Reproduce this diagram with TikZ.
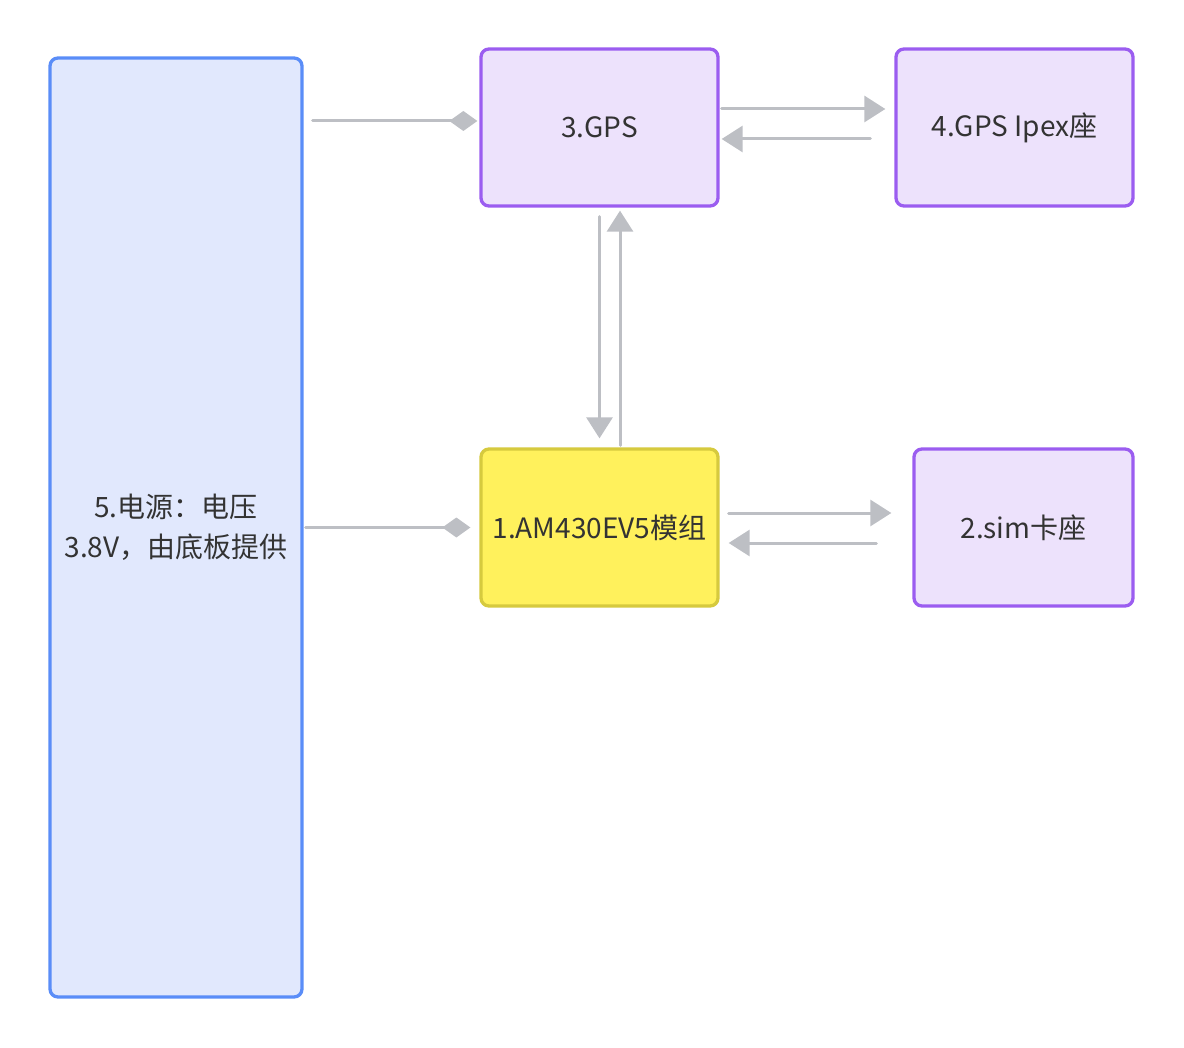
\documentclass[tikz,border=0pt]{standalone}
\usepackage{fontspec}
\setmainfont{Noto Sans CJK SC}
\usepackage{xcolor}
\usetikzlibrary{arrows.meta}
\definecolor{pwrfill}{HTML}{E1E8FD}
\definecolor{pwrline}{HTML}{5A8DF8}
\definecolor{vfill}{HTML}{EDE2FC}
\definecolor{vline}{HTML}{9B5DF0}
\definecolor{yfill}{HTML}{FFF15C}
\definecolor{yline}{HTML}{D6CA3E}
\definecolor{conn}{HTML}{BDBFC4}
\definecolor{txt}{HTML}{333333}

\begin{document}
\begin{tikzpicture}[x=1pt,y=-1pt,font=\fontsize{28}{40}\selectfont,text=txt]
    \tikzset{
      blk/.style={rounded corners=8pt,line width=3.3pt,draw,align=center,
                  minimum height=157pt,inner sep=4pt},
      pw/.style={blk,fill=pwrfill,draw=pwrline,minimum width=252pt,minimum height=939pt},
      pu/.style={blk,fill=vfill,draw=vline,minimum width=237pt},
      ye/.style={blk,fill=yfill,draw=yline,minimum width=237pt},
      ar/.style={line width=3pt,draw=conn,line cap=round,
                 -{Triangle[length=21pt,width=26pt,fill=conn]}},
      dm/.style={line width=3pt,draw=conn,line cap=round,
                 -{Diamond[length=28pt,width=20pt,fill=conn]}}}
    \useasboundingbox (0,0) rectangle (1184,1048);
    \node[pw] (pwr) at (176,527.5) {5.电源：电压\\3.8V，由底板提供};
    \node[pu] (gps) at (599.5,127.5) {3.GPS};
    \node[pu] (ipex) at (1014.5,127.5) {4.GPS Ipex座};
    \node[ye] (am) at (599.5,527.5) {1.AM430EV5模组};
    \node[pu,minimum width=219pt] (sim) at (1023.5,527.5) {2.sim卡座};
    \coordinate (g1) at ([yshift=6.5pt]gps.west);
    \draw[dm,shorten <=9pt,shorten >=2pt] (pwr.east |- g1) -- (g1);
    \draw[dm,shorten <=2pt,shorten >=9pt] (pwr.east |- am.west) -- (am.west);
    \draw[ar,shorten <=2pt,shorten >=9pt] ([yshift=18.5pt]gps.east) -- ([yshift=18.5pt]ipex.west);
    \draw[ar,shorten <=24pt,shorten >=2pt] ([yshift=-11.5pt]ipex.west) -- ([yshift=-11.5pt]gps.east);
    \draw[ar,shorten <=9pt,shorten >=9pt] (gps.south) -- (am.north);
    \draw[ar,shorten <=2pt,shorten >=3pt] ([xshift=20.5pt]am.north) -- ([xshift=20.5pt]gps.south);
    \draw[ar,shorten <=9pt,shorten >=21pt] ([yshift=14.5pt]am.east) -- ([yshift=14.5pt]sim.west);
    \draw[ar,shorten <=36pt,shorten >=9pt] ([yshift=-15.5pt]sim.west) -- ([yshift=-15.5pt]am.east);
\end{tikzpicture}
\end{document}
